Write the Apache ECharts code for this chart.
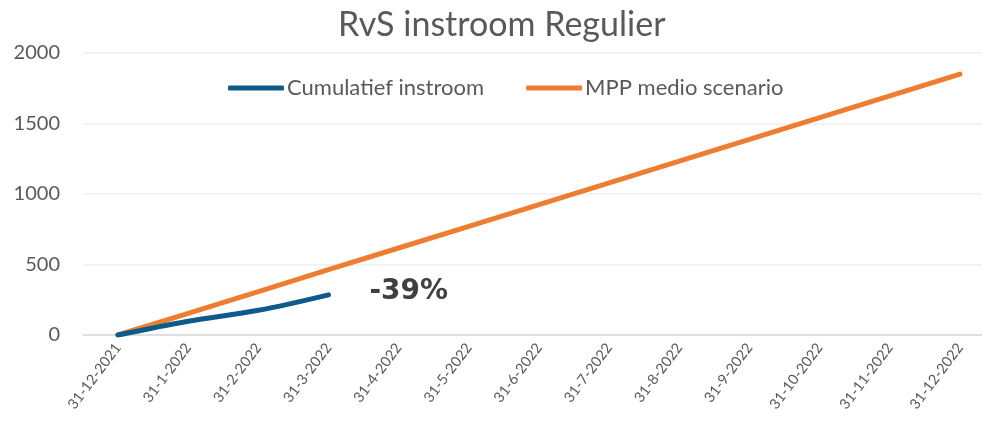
<!DOCTYPE html>
<html>
<head>
<meta charset="utf-8">
<script src="https://cdn.jsdelivr.net/npm/echarts@6/dist/echarts.min.js"></script>
<style>
  html, body { margin: 0; padding: 0; background: #fff; }
  #chart { width: 982px; height: 421px; }
</style>
</head>
<body>
<div id="chart"></div>
<script>
// maandeinden
var categories = ['31-12-2021', '31-1-2022', '31-2-2022', '31-3-2022', '31-4-2022', '31-5-2022',
  '31-6-2022', '31-7-2022', '31-8-2022', '31-9-2022', '31-10-2022', '31-11-2022', '31-12-2022'];
var instroom = [0, 98, 175, 285];
var mppMedio = [0, 154, 308, 463, 617, 771, 925, 1079, 1233, 1388, 1542, 1696, 1850];
var yTicks = [0, 500, 1000, 1500, 2000];
var verschilLabel = '-39%';

var font = 'Lato';
var grijs = '#595959';

var instroomData = instroom.map(function (v, i) {
  if (i === instroom.length - 1) {
    return {
      value: v,
      label: {
        show: true,
        formatter: verschilLabel,
        position: 'right',
        offset: [36, -3],
        fontFamily: 'DejaVu Sans',
        fontWeight: 'bold',
        fontSize: 28,
        color: '#404040'
      }
    };
  }
  return v;
});

var chart = echarts.init(document.getElementById('chart'));
chart.setOption({
  animation: false,
  title: {
    text: 'RvS instroom Regulier',
    left: 333,
    top: 3,
    textStyle: { fontFamily: font, fontSize: 34, fontWeight: 'normal', color: grijs }
  },
  legend: {
    top: 72,
    left: 223,
    icon: 'roundRect',
    itemWidth: 56,
    itemHeight: 5,
    itemGap: 42,
    textStyle: { fontFamily: font, fontSize: 22, color: grijs, padding: [0, 0, 0, -2] },
    data: ['Cumulatief instroom', 'MPP medio scenario']
  },
  // grid 0: achtergrond met rasterlijnen over de volle breedte
  // grid 1: de lijnen, punten op de maandeinden
  grid: [
    { left: 83, top: 53, right: 0, height: 282 },
    { left: 118, top: 53, right: 22, height: 282 }
  ],
  xAxis: [
    {
      gridIndex: 0,
      type: 'value',
      min: 0,
      max: 1,
      axisLine: { show: true, onZero: false, lineStyle: { color: '#d9d9d9', width: 1.5 } },
      axisTick: { show: false },
      axisLabel: { show: false },
      splitLine: { show: false }
    },
    {
      gridIndex: 1,
      type: 'category',
      data: categories,
      boundaryGap: false,
      axisLine: { show: false },
      axisTick: { show: false },
      axisLabel: {
        rotate: 53,
        interval: 0,
        fontFamily: font,
        fontSize: 14.5,
        color: grijs,
        margin: 10
      }
    }
  ],
  yAxis: [
    {
      gridIndex: 0,
      type: 'value',
      min: yTicks[0],
      max: yTicks[yTicks.length - 1],
      interval: 500,
      axisLine: { show: false },
      axisTick: { show: false },
      splitLine: { lineStyle: { color: '#efefef', width: 1.5 } },
      axisLabel: {
        fontFamily: font, fontSize: 20, color: grijs, margin: 23,
        formatter: function (v) { return String(v); }
      }
    },
    {
      gridIndex: 1,
      type: 'value',
      min: yTicks[0],
      max: yTicks[yTicks.length - 1],
      interval: 500,
      axisLine: { show: false },
      axisTick: { show: false },
      axisLabel: { show: false },
      splitLine: { show: false }
    }
  ],
  series: [
    {
      name: 'MPP medio scenario',
      type: 'line',
      xAxisIndex: 1,
      yAxisIndex: 1,
      data: mppMedio,
      color: '#ED7D31',
      symbol: 'none',
      lineStyle: { width: 5, cap: 'round' },
      z: 2
    },
    {
      name: 'Cumulatief instroom',
      type: 'line',
      xAxisIndex: 1,
      yAxisIndex: 1,
      data: instroomData,
      color: '#0E5A8A',
      symbol: 'circle',
      symbolSize: 0,
      showSymbol: true,
      smooth: 0.35,
      lineStyle: { width: 5, cap: 'round' },
      z: 3
    }
  ]
});
</script>
</body>
</html>
